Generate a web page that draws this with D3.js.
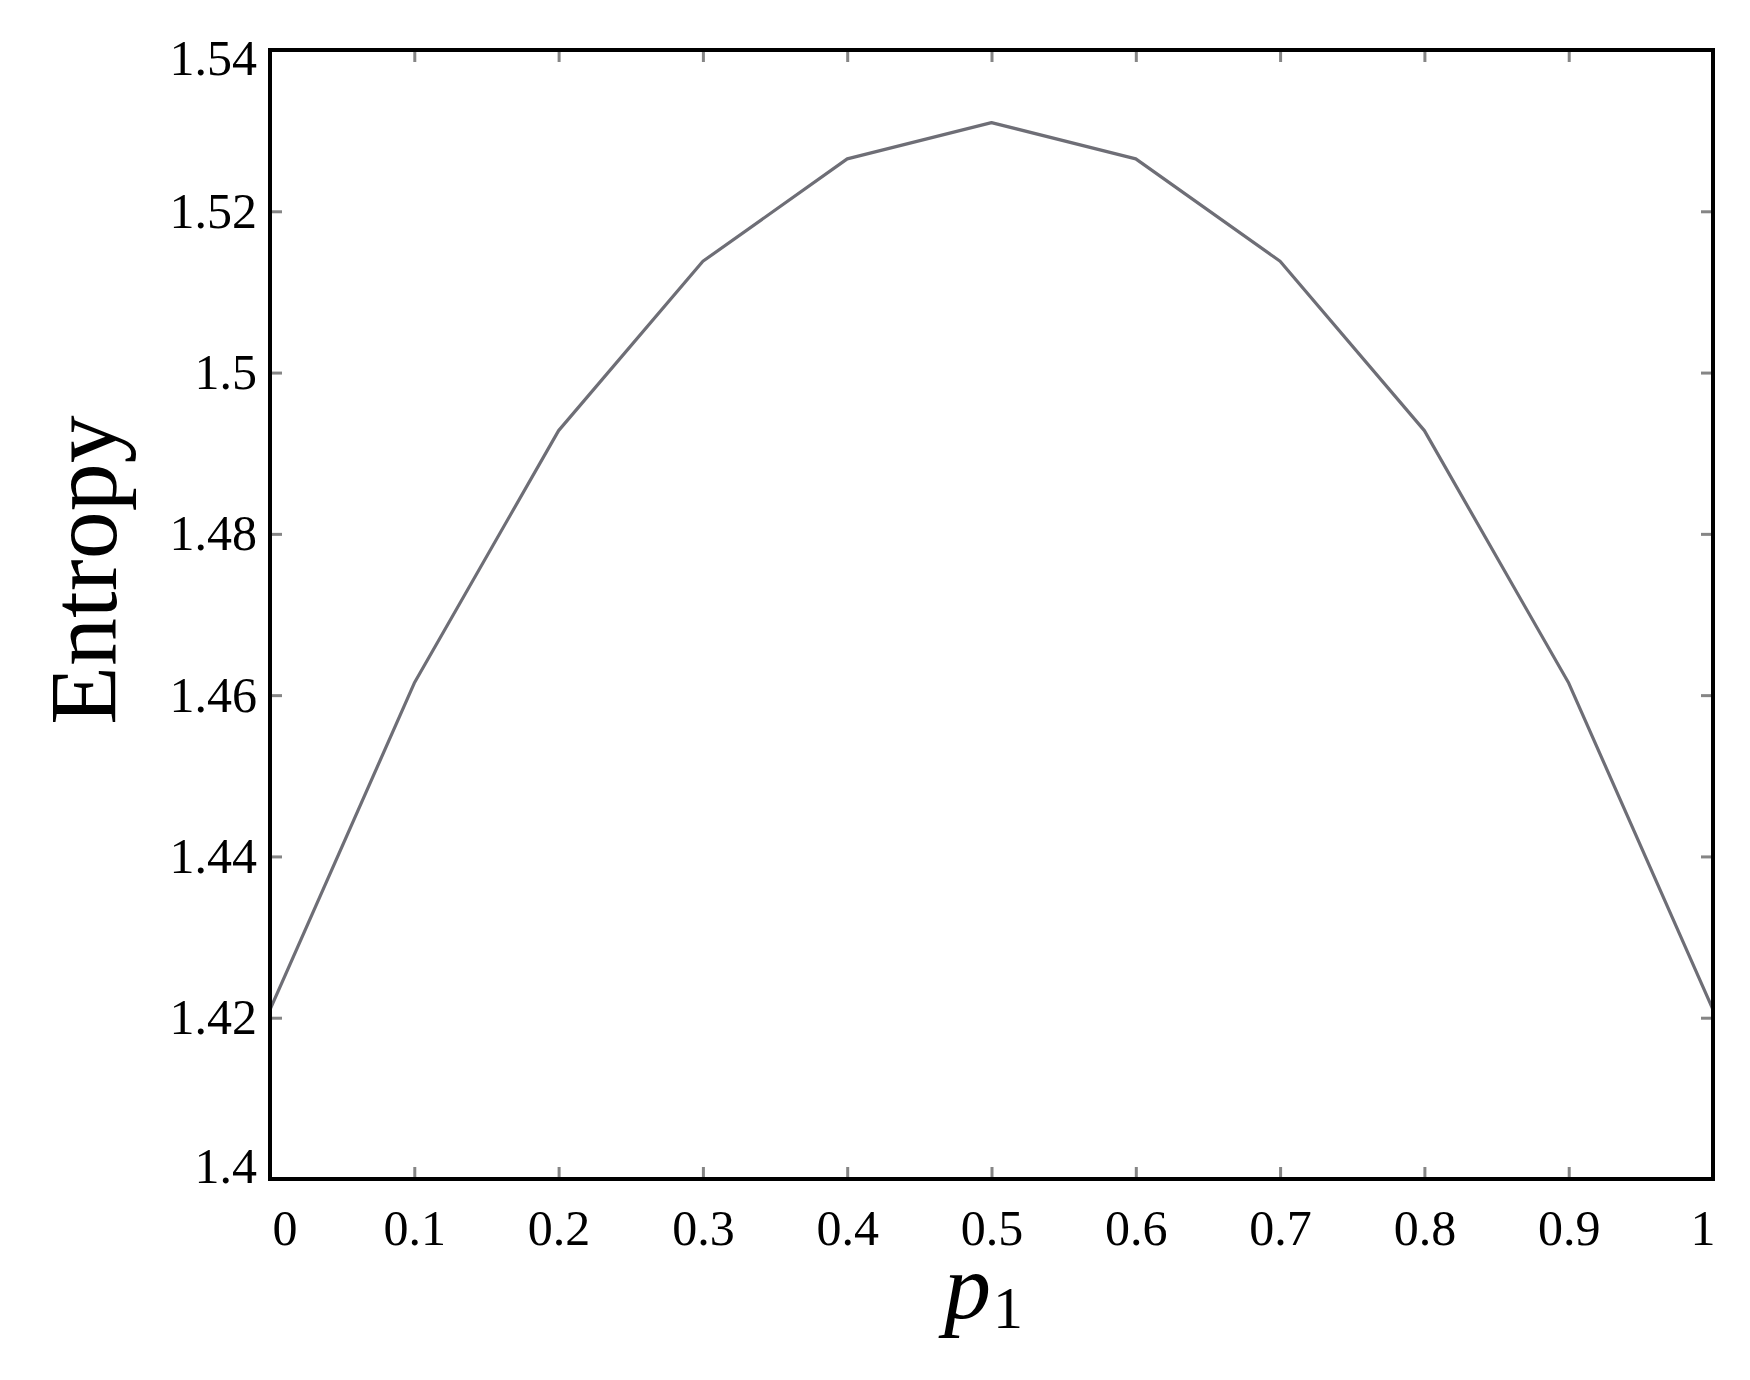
<!DOCTYPE html>
<html>
<head>
<meta charset="utf-8">
<script src="https://cdn.jsdelivr.net/npm/d3@7"></script>
<style>
  body { margin: 0; background: #fff; }
  text { font-family: "Liberation Serif", "Times New Roman", serif; fill: #000; }
</style>
</head>
<body>
<div id="canvas"></div>
<script>
// set the dimensions and margins of the graph
var margin = { top: 50, right: 37, bottom: 201, left: 270 },
  width = 1750 - margin.left - margin.right,
  height = 1380 - margin.top - margin.bottom;

// data
var p1 = [0, 0.1, 0.2, 0.3, 0.4, 0.5, 0.6, 0.7, 0.8, 0.9, 1];
var entropy = [1.421, 1.4615, 1.4928, 1.5138, 1.5265, 1.531, 1.5265, 1.5138, 1.4928, 1.4615, 1.421];

// ticks and their labels
var xTicks = [0, 0.1, 0.2, 0.3, 0.4, 0.5, 0.6, 0.7, 0.8, 0.9, 1];
var xLabels = ["0", "0.1", "0.2", "0.3", "0.4", "0.5", "0.6", "0.7", "0.8", "0.9", "1"];
var yTicks = [1.4, 1.42, 1.44, 1.46, 1.48, 1.5, 1.52, 1.54];
var yLabels = ["1.4", "1.42", "1.44", "1.46", "1.48", "1.5", "1.52", "1.54"];

var svg = d3
  .select("#canvas")
  .append("svg")
  .attr("width", width + margin.left + margin.right)
  .attr("height", height + margin.top + margin.bottom)
  .append("g")
  .attr("transform", "translate(" + margin.left + "," + margin.top + ")");

var xScale = d3.scaleLinear().domain([0, 1]).range([0, width]);
var yScale = d3.scaleLinear().domain([1.4, 1.54]).range([height, 0]);

// inner ticks on all four sides
function innerTicks(axis, tx, ty) {
  var g = svg
    .append("g")
    .attr("transform", "translate(" + tx + "," + ty + ")")
    .call(axis.tickSize(-12).tickFormat(""));
  g.select(".domain").remove();
  g.selectAll(".tick line").attr("stroke", "#858585").attr("stroke-width", 3);
}
innerTicks(d3.axisBottom(xScale).tickValues(xTicks), 0, height);
innerTicks(d3.axisTop(xScale).tickValues(xTicks), 0, 0);
innerTicks(d3.axisLeft(yScale).tickValues(yTicks), 0, 0);
innerTicks(d3.axisRight(yScale).tickValues(yTicks), width, 0);

// x tick labels
var xAxis = svg
  .append("g")
  .attr("transform", "translate(0," + height + ")")
  .call(
    d3.axisBottom(xScale)
      .tickValues(xTicks)
      .tickSize(0)
      .tickPadding(30)
      .tickFormat((d, i) => xLabels[i])
  );
xAxis.select(".domain").remove();
xAxis
  .selectAll("text")
  .attr("font-size", 50)
  .attr("font-family", "Liberation Serif")
  .attr("dy", "0.71em")
  .attr("text-anchor", (d, i) => (i == 0 ? "start" : i == xTicks.length - 1 ? "end" : "middle"))
  .attr("x", (d, i) => (i == 0 ? 2 : i == xTicks.length - 1 ? 2 : 0));

// y tick labels
var yAxis = svg
  .append("g")
  .call(
    d3.axisLeft(yScale)
      .tickValues(yTicks)
      .tickSize(0)
      .tickPadding(13)
      .tickFormat((d, i) => yLabels[i])
  );
yAxis.select(".domain").remove();
yAxis
  .selectAll("text")
  .attr("font-size", 50)
  .attr("font-family", "Liberation Serif")
  .attr("y", (d, i) => (i == 0 ? -13 : i == yTicks.length - 1 ? 8 : 0));

// the curve
var line = d3
  .line()
  .x((d, i) => xScale(p1[i]))
  .y((d) => yScale(d));

svg
  .append("path")
  .datum(entropy)
  .attr("fill", "none")
  .attr("stroke", "#6e6e76")
  .attr("stroke-width", 3.2)
  .attr("stroke-linejoin", "round")
  .attr("d", line);

// frame
svg
  .append("rect")
  .attr("width", width)
  .attr("height", height)
  .attr("fill", "none")
  .attr("stroke", "#000")
  .attr("stroke-width", 4);

// axis titles
svg
  .append("text")
  .attr("transform", "translate(" + (116 - margin.left) + "," + (570 - margin.top) + ") rotate(-90)")
  .attr("text-anchor", "middle")
  .attr("font-size", 96)
  .text("Entropy");

var xTitle = svg
  .append("text")
  .attr("x", 944 - margin.left)
  .attr("y", 1318 - margin.top)
  .attr("font-size", 94);
xTitle.append("tspan").attr("font-style", "italic").text("p");
xTitle.append("tspan").attr("font-size", 60).attr("dx", 2).attr("dy", 10).text("1");
</script>
</body>
</html>
